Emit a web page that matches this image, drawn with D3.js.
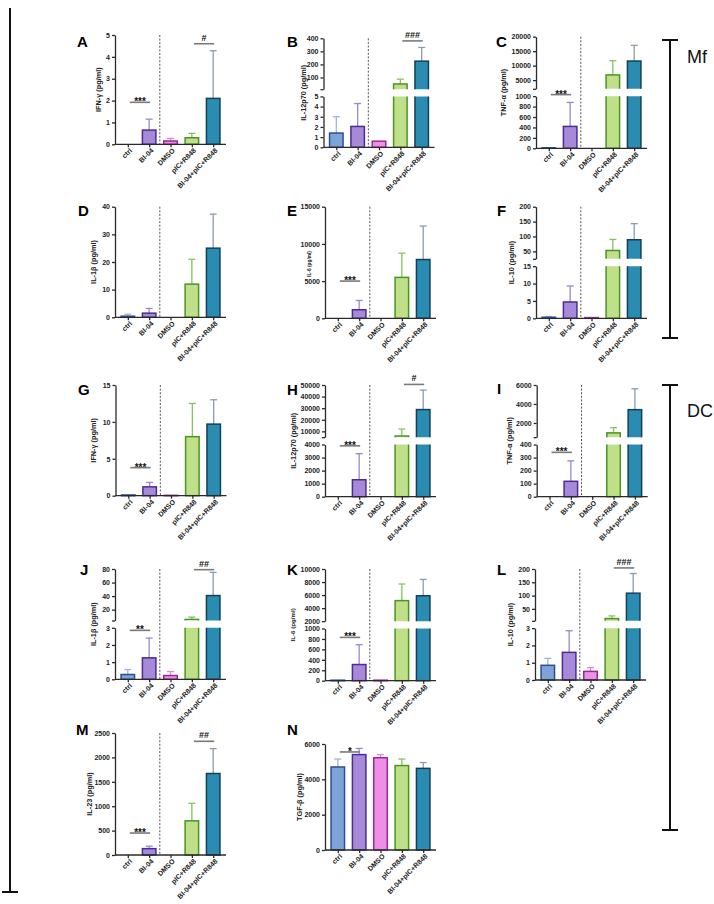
<!DOCTYPE html>
<html><head><meta charset="utf-8">
<script src="https://cdn.jsdelivr.net/npm/d3@7"></script>
<style>body{margin:0;background:#fff;} svg{display:block;font-family:"Liberation Sans",Arial,sans-serif;}</style>
</head><body><svg id="c" width="714" height="904"></svg>
<script>
const groups = ["ctrl","BI-04","DMSO","pIC+R848","BI-04+pIC+R848"];
const fillColors = ["#7ea3d8","#a68ad8","#ec8fe5","#bfe089","#2b8cb2"];
const strokeColors = ["#2c4e96","#4a2c94","#a0249b","#4a9425","#143f5c"];
const errColors = ["#9fb3dc","#9b87cf","#d98ad6","#86c35e","#8c9bb0"];

// means and upper error-bar ends (mean + SD)
const A_mean = [0, 0.65, 0.15, 0.3, 2.1],      A_err = [0, 1.15, 0.27, 0.5, 4.28];
const B_mean = [1.4, 2.05, 0.6, 50, 225],      B_err = [3.0, 4.3, 0.6, 87, 330];
const C_mean = [10, 420, 0, 6800, 11600],      C_err = [10, 880, 0, 11700, 17000];
const D_mean = [0.4, 1.5, 0, 12, 25],          D_err = [1.1, 3.2, 0, 21, 37.3];
const E_mean = [0, 1150, 0, 5500, 7900],       E_err = [0, 2400, 0, 8750, 12400];
const F_mean = [0.3, 4.7, 0.2, 53, 89],        F_err = [0.5, 9.3, 0.2, 90, 143];
const G_mean = [0.1, 1.2, 0.05, 8.0, 9.7],     G_err = [0.1, 1.8, 0.05, 12.5, 13.0];
const H_mean = [0, 1300, 0, 6000, 28800],      H_err = [0, 3300, 0, 12000, 45600];
const I_mean = [0, 118, 0, 950, 3400],         I_err = [0, 275, 0, 1500, 5600];
const J_mean = [0.28, 1.25, 0.22, 5.6, 40.8],  J_err = [0.57, 2.4, 0.45, 9.1, 75];
const K_mean = [10, 310, 10, 5150, 5900],      K_err = [10, 690, 10, 7700, 8400];
const L_mean = [0.85, 1.6, 0.5, 13.5, 109],    L_err = [1.25, 2.85, 0.72, 23.5, 183];
const M_mean = [0, 130, 0, 700, 1670],         M_err = [0, 180, 0, 1060, 2180];
const N_mean = [4700, 5400, 5220, 4780, 4620], N_err = [5150, 5750, 5400, 5150, 4950];

// y-axis ticks
const A_ticks = [0,1,2,3,4,5];
const B_lowTicks = [0,1,2,3,4,5], B_upTicks = [100,200,300,400];
const C_lowTicks = [0,200,400,600,800,1000], C_upTicks = [5000,10000,15000,20000];
const D_ticks = [0,10,20,30,40];
const E_ticks = [0,5000,10000,15000];
const F_lowTicks = [0,5,10,15], F_upTicks = [50,100,150,200];
const G_ticks = [0,5,10,15];
const H_lowTicks = [0,1000,2000,3000,4000], H_upTicks = [10000,20000,30000,40000,50000];
const I_lowTicks = [0,100,200,300,400], I_upTicks = [2000,4000,6000];
const J_lowTicks = [0,1,2,3], J_upTicks = [20,40,60,80];
const K_lowTicks = [0,200,400,600,800,1000], K_upTicks = [2000,4000,6000,8000,10000];
const L_lowTicks = [0,1,2,3], L_upTicks = [50,100,150,200];
const M_ticks = [0,500,1000,1500,2000,2500];
const N_ticks = [0,2000,4000,6000];

// significance marks: [from group, to group, value, text, segment]
const A_sig = [[0,1,1.92,"***","low"],[3,4,4.6,"#","low"]];
const B_sig = [[3,4,380,"###","up"]];
const C_sig = [[0,1,1030,"***","low"]];
const E_sig = [[0,1,5000,"***","low"]];
const G_sig = [[0,1,3.8,"***","low"]];
const H_sig = [[0,1,3900,"***","low"],[3,4,50500,"#","up"]];
const I_sig = [[0,1,340,"***","low"]];
const J_sig = [[0,1,2.85,"**","low"],[3,4,79,"##","up"]];
const K_sig = [[0,1,830,"***","low"]];
const L_sig = [[3,4,204,"###","up"]];
const M_sig = [[0,1,450,"***","low"],[3,4,2330,"##","low"]];
const N_sig = [[0,1,5550,"*","low"]];

const panels = [
 {id:"A", lab:"IFN-γ (pg/ml)", mean:A_mean, err:A_err, x:115, top:35, bottom:144.3, low:[0,5], lowTicks:A_ticks, sig:A_sig, dashed:true, ldx:-17, lx:77, ly:47},
 {id:"B", lab:"IL-12p70 (pg/ml)", mean:B_mean, err:B_err, x:323.5, top:38.3, bottom:147.3, low:[0,5], lowTicks:B_lowTicks, up:[10,400], upTicks:B_upTicks, sig:B_sig, dashed:true, ldx:-20, lx:287, ly:46.5},
 {id:"C", lab:"TNF-α (pg/ml)", mean:C_mean, err:C_err, x:536, top:36.7, bottom:148.3, low:[0,1000], lowTicks:C_lowTicks, up:[2000,20000], upTicks:C_upTicks, sig:C_sig, dashed:true, ldx:-33, lx:496, ly:47},
 {id:"D", lab:"IL-1β (pg/ml)", mean:D_mean, err:D_err, x:115, top:206.7, bottom:317.3, low:[0,40], lowTicks:D_ticks, sig:[], dashed:true, ldx:-22, lx:78, ly:215.5},
 {id:"E", lab:"IL-6 (pg/ml)", mean:E_mean, err:E_err, x:325, top:206.7, bottom:318.3, low:[0,15000], lowTicks:E_ticks, sig:E_sig, dashed:true, ldx:-16, lfs:4.8, lcy:264, lx:287, ly:216},
 {id:"F", lab:"IL-10 (pg/ml)", mean:F_mean, err:F_err, x:536, top:206.7, bottom:318.3, low:[0,15], lowTicks:F_lowTicks, up:[25,200], upTicks:F_upTicks, sig:[], dashed:true, ldx:-25, lx:497, ly:216},
 {id:"G", lab:"IFN-γ (pg/ml)", mean:G_mean, err:G_err, x:115.5, top:385, bottom:495.7, low:[0,15], lowTicks:G_ticks, sig:G_sig, dashed:true, ldx:-22, lx:78, ly:395},
 {id:"H", lab:"IL-12p70 (pg/ml)", mean:H_mean, err:H_err, x:325, top:385, bottom:496.7, low:[0,4000], lowTicks:H_lowTicks, up:[5000,50000], upTicks:H_upTicks, sig:H_sig, dashed:true, ldx:-32, lx:287, ly:395},
 {id:"I", lab:"TNF-α (pg/ml)", mean:I_mean, err:I_err, x:536.7, top:385, bottom:496.7, low:[0,400], lowTicks:I_lowTicks, up:[500,6000], upTicks:I_upTicks, sig:I_sig, dashed:true, ldx:-27, lx:497, ly:394},
 {id:"J", lab:"IL-1β (pg/ml)", mean:J_mean, err:J_err, x:115, top:569, bottom:679.3, low:[0,3], lowTicks:J_lowTicks, up:[4,80], upTicks:J_upTicks, sig:J_sig, dashed:true, ldx:-22, lx:80, ly:575},
 {id:"K", lab:"IL-6 (pg/ml)", mean:K_mean, err:K_err, x:325, top:569, bottom:680.7, low:[0,1000], lowTicks:K_lowTicks, up:[2000,10000], upTicks:K_upTicks, breakLabel:true, sig:K_sig, dashed:true, ldx:-32, lfs:6.2, lx:287, ly:575},
 {id:"L", lab:"IL-10 (pg/ml)", mean:L_mean, err:L_err, x:535, top:569, bottom:680, low:[0,3], lowTicks:L_lowTicks, up:[5,200], upTicks:L_upTicks, sig:L_sig, dashed:true, ldx:-25, lx:497, ly:575},
 {id:"M", lab:"IL-23 (pg/ml)", mean:M_mean, err:M_err, x:115, top:733, bottom:855, low:[0,2500], lowTicks:M_ticks, sig:M_sig, dashed:true, ldx:-26, lx:76, ly:735},
 {id:"N", lab:"TGF-β (pg/ml)", mean:N_mean, err:N_err, x:325, top:744, bottom:850, low:[0,6000], lowTicks:N_ticks, sig:N_sig, dashed:false, ldx:-26, lx:287, ly:735}
];

const svg = d3.select("#c");
const defs = svg.append("defs");
const GW = 111, BW = 13.5;
const fmt = d3.format("d");

function styleAxis(ga){
  ga.attr("font-family",null).attr("font-size",null);
  ga.selectAll("path,line").attr("stroke","#2a2a2a").attr("stroke-width",1.3);
  ga.selectAll("text").attr("fill","#222").attr("font-size",7).attr("font-weight","bold");
}

function drawPanel(p){
  const g = svg.append("g");
  const xs = d3.scalePoint().domain(groups).range([p.x, p.x+GW]).padding(0.6);
  let segs;
  if(!p.up){
    segs = [{dom:p.low, rng:[p.bottom,p.top], ticks:p.lowTicks, low:true, single:true}];
  } else {
    const s = (p.bottom-p.top)*0.467;
    segs = [{dom:p.low, rng:[p.bottom,p.bottom-s], ticks:p.lowTicks, low:true},
            {dom:p.up, rng:[p.top+s,p.top], ticks:p.upTicks, low:false}];
  }
  segs.forEach(s => s.y = d3.scaleLinear().domain(s.dom).range(s.rng));
  const segFor = v => (segs.length>1 && v > segs[0].dom[1]) ? segs[1] : segs[0];

  if(p.dashed){
    const dx = (xs(groups[1])+xs(groups[2]))/2;
    g.append("line").attr("x1",dx).attr("x2",dx).attr("y1",p.top).attr("y2",p.bottom)
      .attr("stroke","#555").attr("stroke-width",1).attr("stroke-dasharray","2,1.6");
  }

  // error bars (upward)
  p.mean.forEach((v,k)=>{
    const e = p.err[k]; if(e <= v) return;
    const s = segFor(v), x = xs(groups[k]);
    g.append("line").attr("x1",x).attr("x2",x).attr("y1",s.y(v)).attr("y2",s.y(e))
      .attr("stroke",errColors[k]).attr("stroke-width",1.3);
    g.append("line").attr("x1",x-3.5).attr("x2",x+3.5).attr("y1",s.y(e)).attr("y2",s.y(e))
      .attr("stroke",errColors[k]).attr("stroke-width",1.3);
  });

  // bars per segment
  segs.forEach((s,si)=>{
    const id = "clip"+p.id+si;
    const top = (s.low && !s.single) ? s.rng[1] : s.rng[1]-20;
    const bot = s.low ? s.rng[0]+3 : s.rng[0];
    defs.append("clipPath").attr("id",id).append("rect")
      .attr("x",p.x-2).attr("y",top).attr("width",GW+12).attr("height",bot-top);
    const gb = g.append("g").attr("clip-path","url(#"+id+")");
    p.mean.forEach((v,k)=>{
      if(!s.low && v <= s.dom[0]) return;
      const yb = s.low ? s.y(0) : s.y(s.dom[0])+4;
      const yt = s.y(v);
      gb.append("rect").attr("x",xs(groups[k])-BW/2).attr("y",Math.min(yt,yb))
        .attr("width",BW).attr("height",Math.abs(yb-yt))
        .attr("fill",fillColors[k]).attr("stroke",strokeColors[k]).attr("stroke-width",1.5);
    });
  });

  // y axes
  segs.forEach(s=>{
    const tv = s.low ? s.ticks : [s.dom[0]].concat(s.ticks.filter(t=>t!==s.dom[0]));
    const ax = d3.axisLeft(s.y).tickValues(tv).tickSize(3).tickSizeOuter(0).tickPadding(2)
      .tickFormat(d => (!s.low && d===s.dom[0] && !p.breakLabel) ? "" : fmt(d));
    const ga = g.append("g").attr("transform","translate("+p.x+",0)").call(ax);
    styleAxis(ga);
  });

  // x axis
  const gx = g.append("g").attr("transform","translate(0,"+p.bottom+")")
    .call(d3.axisBottom(xs).tickSize(3).tickSizeOuter(0));
  styleAxis(gx);
  gx.select(".domain").attr("d","M"+p.x+",0H"+(p.x+GW));
  gx.selectAll("text").attr("x",0).attr("y",0).attr("dy","0.35em")
    .attr("text-anchor","end").attr("transform","translate(2.5,5) rotate(-45)");

  // significance
  p.sig.forEach(sg=>{
    const s = sg[4]==="up" ? segs[1] : segs[0];
    const y = s.y(sg[2]);
    const x1 = xs(groups[sg[0]])+2, x2 = xs(groups[sg[1]])+1;
    g.append("line").attr("x1",x1).attr("x2",x2).attr("y1",y).attr("y2",y)
      .attr("stroke","#7a7a7a").attr("stroke-width",1.6);
    const star = sg[3].indexOf("*")>=0;
    g.append("text").attr("x",(x1+x2)/2).attr("y", star ? y+3 : y-3)
      .attr("text-anchor","middle").attr("font-size", star ? 10 : 9).attr("font-weight","bold")
      .attr("fill","#111").text(sg[3]);
  });

  // y label
  const cy = p.lcy || (p.top+p.bottom)/2, lx = p.x+p.ldx;
  g.append("text").attr("transform","translate("+lx+","+cy+") rotate(-90)")
    .attr("text-anchor","middle").attr("dy","0.35em").attr("font-size",p.lfs||7.3).attr("font-weight","bold")
    .attr("fill","#222").text(p.lab);

  // panel letter
  g.append("text").attr("x",p.lx).attr("y",p.ly).attr("font-size",15).attr("font-weight","bold")
    .attr("fill","#000").text(p.id);
}

panels.forEach(drawPanel);

// brackets
const br = svg.append("g").attr("stroke","#111").attr("stroke-width",2).attr("fill","none");
br.append("line").attr("x1",10).attr("x2",10).attr("y1",8).attr("y2",892);
br.append("line").attr("x1",2).attr("x2",18).attr("y1",892).attr("y2",892);
[[40,338],[385,830]].forEach(([a,b])=>{
  br.append("line").attr("x1",670).attr("x2",670).attr("y1",a).attr("y2",b);
  br.append("line").attr("x1",662).attr("x2",678).attr("y1",a).attr("y2",a);
  br.append("line").attr("x1",662).attr("x2",678).attr("y1",b).attr("y2",b);
});
svg.append("text").attr("x",687).attr("y",63).attr("font-size",18).attr("fill","#111").text("Mf");
svg.append("text").attr("x",687).attr("y",417).attr("font-size",18).attr("fill","#111").text("DC");
</script>
</body></html>
